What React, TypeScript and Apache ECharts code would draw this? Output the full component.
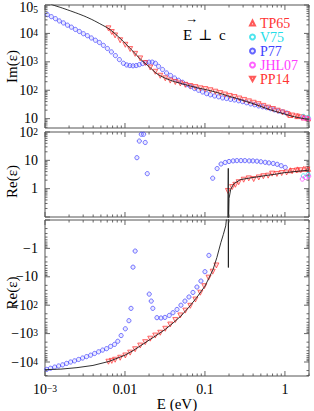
import React, { useEffect, useRef } from "react";
import * as echarts from "echarts";

const SERIF = "'Liberation Serif', 'Times New Roman', 'DejaVu Serif', serif";
const FRAME = "#555";

// ---- axis ranges ----
const xRange = [0.001, 2];
const imRange = [4.7, 100000];
const rePosRange = [0.1, 100];
const reNegRange = [0.1, 31100]; // magnitude of negative Re(eps), drawn downward

// ---- model (black line) ----
const modelImE = [0.001, 0.00126, 0.00158, 0.002, 0.00251, 0.00316, 0.00398, 0.00501, 0.00631, 0.00794,
  0.01, 0.0126, 0.0158, 0.02, 0.0251, 0.0316, 0.0398, 0.0501, 0.0631, 0.0794,
  0.1, 0.126, 0.158, 0.2, 0.251, 0.316, 0.398, 0.501, 0.631, 0.794,
  1.0, 1.26, 1.58, 2.0];
const modelIm = [132000, 100000, 81300, 64600, 51300, 39800, 29500, 20900, 14500, 8510,
  4570, 2340, 1200, 676, 380, 269, 209, 174, 145, 123,
  107, 91.2, 75.9, 61.7, 51.3, 41.7, 33.9, 26.9, 21.4, 17.4,
  14.5, 12.0, 10.5, 9.33];

const modelReE = [0.001, 0.00158, 0.00251, 0.00398, 0.00631,
  0.01, 0.0126, 0.0158, 0.02, 0.0251, 0.0316, 0.0398, 0.0501, 0.0631, 0.0794,
  0.1, 0.112, 0.126, 0.141, 0.158, 0.17, 0.182, 0.19,
  0.1935, 0.1958, 0.196, 0.1961, 0.1963, 0.1966, 0.1968,
  0.2, 0.21, 0.229, 0.278, 0.371, 0.447, 0.6, 0.794, 1.0, 1.5, 2.0];
const modelRe = [-18600, -17800, -15800, -13200, -9550,
  -5750, -3980, -2630, -1700, -1120, -724, -427, -240, -117, -52.5,
  -21.4, -11.2, -5.62, -2.09, -0.63, -0.32, -0.16, -0.05,
  0.05, 5.2, 0.05, -0.05, -4.7, -0.05, 0.05,
  0.45, 0.95, 1.48, 2.09, 2.4, 2.6, 2.95, 3.3, 3.7, 4.15, 4.5];

// ---- P77 ----
const p77ImE = [0.00107, 0.0012, 0.00135, 0.00151, 0.0017, 0.00191, 0.00214, 0.0024, 0.00269, 0.00302,
  0.00339, 0.0038, 0.00427, 0.00479, 0.00537, 0.00603, 0.00676, 0.00759, 0.00851, 0.00955,
  0.0105, 0.0115, 0.0126, 0.0138, 0.0151, 0.0166, 0.0182, 0.02, 0.0219, 0.024,
  0.0263, 0.0295, 0.0331, 0.0372, 0.0417, 0.0468, 0.0525, 0.0589, 0.0661, 0.0741,
  0.0832, 0.0933, 0.105, 0.117, 0.132, 0.148, 0.166, 0.186, 0.209, 0.234,
  0.263, 0.295, 0.331, 0.372, 0.417, 0.468, 0.525, 0.589, 0.661, 0.741,
  0.832, 0.933, 1.05];
const p77Im = [45700, 38900, 33100, 27500, 23400, 19500, 16600, 13800, 11700, 9770,
  8320, 6920, 5750, 4790, 3800, 2950, 2240, 1660, 1200, 891,
  776, 741, 724, 741, 794, 871, 933, 977, 977, 891,
  692, 537, 407, 331, 269, 224, 191, 158, 135, 115,
  100, 87.1, 75.9, 69.2, 63.1, 58.9, 53.7, 51.3, 47.9, 45.7,
  42.7, 39.8, 36.3, 33.1, 30.9, 28.2, 26.3, 24.5, 22.4, 20.4,
  18.6, 17.4, 15.8];

const p77ReE = [0.00105, 0.00117, 0.00132, 0.00148, 0.00166, 0.00186, 0.00209, 0.00234, 0.00263, 0.00295,
  0.00331, 0.00372, 0.00417, 0.00468, 0.00525, 0.00589, 0.00661, 0.00741, 0.00813, 0.00895,
  0.0101, 0.0112, 0.0119, 0.0126, 0.0134, 0.0141, 0.0151, 0.016, 0.0171, 0.0179,
  0.019, 0.0201, 0.0213, 0.0223, 0.0251, 0.0282, 0.0316, 0.0358, 0.0398, 0.0447,
  0.0501, 0.0562, 0.0631, 0.0708, 0.0794, 0.0891, 0.1, 0.112, 0.125, 0.142,
  0.159, 0.179, 0.2, 0.225, 0.251, 0.282, 0.316, 0.357, 0.398, 0.447,
  0.501, 0.566, 0.631, 0.713, 0.8, 0.898, 1.01];
const p77Re = [-18200, -16600, -15100, -13800, -12600, -11200, -10000, -9120, -8130, -7240,
  -6460, -5750, -5010, -4370, -3800, -3390, -2820, -2400, -1860, -1170,
  -676, -351, -129, -4.57, -1.24, 12.4, 47.9, 83.2, 83.2, 42.7,
  3.39, -40.7, -71.6, -129, -275, -282, -269, -229, -184, -141,
  -100, -71.6, -51.3, -35.5, -22.9, -14.1, -6.61, -1.76, 2.34, 5.13,
  7.41, 8.41, 9.12, 9.55, 9.77, 9.77, 9.77, 9.55, 9.55, 9.33,
  8.91, 8.51, 8.13, 7.76, 7.24, 6.46, 5.62];

// ---- PP14 ----
const pp14ImE = [0.00621, 0.00684, 0.00753, 0.00871, 0.0101, 0.0116, 0.0134, 0.0155, 0.0179, 0.0207,
  0.0239, 0.0276, 0.0319, 0.0368, 0.0426, 0.0492, 0.0568, 0.0656, 0.0759, 0.0875,
  0.101, 0.117, 0.135, 0.155, 0.178, 0.204, 0.234, 0.269, 0.309, 0.355,
  0.407, 0.468, 0.537, 0.617, 0.708, 0.813, 0.933, 1.07, 1.23, 1.41,
  1.62, 1.86];
const pp14Im = [15100, 11200, 8510, 5750, 3980, 2820, 1910, 1320, 912, 631,
  447, 324, 263, 219, 195, 174, 155, 141, 129, 117,
  110, 100, 89.1, 79.4, 70.8, 63.1, 57.5, 51.3, 45.7, 40.7,
  36.3, 32.4, 28.2, 24.5, 21.9, 19.1, 16.6, 14.5, 12.9, 12.0,
  11.2, 10.2];
const pp14ReE = [0.00621, 0.00684, 0.00753, 0.00871, 0.0101, 0.0116, 0.0134, 0.0155, 0.0179, 0.0207,
  0.0239, 0.0276, 0.0319, 0.0368, 0.0426, 0.0492, 0.0568, 0.0656, 0.0759, 0.0875,
  0.0982, 0.111, 0.125, 0.139,
  0.194, 0.219, 0.24, 0.264, 0.305, 0.353,
  0.407, 0.471, 0.537, 0.617, 0.692, 0.794,
  0.912, 1.05, 1.23, 1.41, 1.58, 1.91];
const pp14Re = [-9770, -9120, -8320, -7080, -5890, -4680, -3550, -2630, -2000, -1510,
  -1170, -933, -676, -479, -331, -229, -155, -105, -63.1, -36.3,
  -21.4, -10.7, -6.61, -3.98,
  0.83, 1.14, 1.37, 1.69, 2.07, 2.31,
  2.18, 2.49, 2.75, 2.88, 3.39, 3.31,
  3.55, 3.72, 4.17, 4.37, 4.47, 4.79];

// ---- TP65, V75, JHL07 ----
const tp65E = [1.17, 1.43, 1.72, 1.95];
const tp65Im = [13.5, 12.3, 11.0, 10.2];
const tp65Re = [4.47, 4.79, 5.01, 5.01];
const v75E = [1.70, 1.95];
const v75Im = [12.0, 11.0];
const v75Re = [2.82, 3.16];
const jhl07E = [1.65, 1.81, 1.98];
const jhl07Im = [10.7, 10.2, 9.8];
const jhl07Re = [2.18, 2.5, 2.75];

const C_RED = "#ff3333";
const C_BLUE = "#4141ff";
const C_CYAN = "#22dde8";
const C_MAG = "#ff3cff";
const DOWN_TRI = "path://M0,0L10,0L5,8.66Z";

const pairs = (E: number[], V: number[]) => E.map((e, i) => [e, V[i]]);
const posPairs = (E: number[], V: number[]) => E.map((e, i) => [e, V[i]]).filter((p) => p[1] > 0);
const negPairs = (E: number[], V: number[]) => E.map((e, i) => [e, V[i]]).filter((p) => p[1] < 0).map((p) => [p[0], -p[1]]);
const posLine = (E: number[], V: number[]) => E.map((e, i) => [e, V[i] > 0 ? V[i] : "-"]);
const negLine = (E: number[], V: number[]) => E.map((e, i) => [e, V[i] < 0 ? -V[i] : "-"]);

const exp10 = (v: number) => {
  const l = Math.log10(v);
  const r = Math.round(l);
  return Math.abs(l - r) < 1e-6 ? r : null;
};

const rich = {
  b: { fontFamily: SERIF, fontSize: 14, color: "#000", lineHeight: 11 },
  s: { fontFamily: SERIF, fontSize: 9.5, color: "#000", verticalAlign: "top", lineHeight: 7 },
  bt: { fontFamily: SERIF, fontSize: 14, color: "#000", lineHeight: 11, padding: [5, 0, 0, 0] },
  st: { fontFamily: SERIF, fontSize: 9.5, color: "#000", verticalAlign: "top", lineHeight: 7, padding: [5, 0, 0, 0] },
};

function tickItems(yMin: number, yMax: number, xRef: number, yRef: number) {
  const items: number[][] = [];
  for (let n = -3; n <= 0; n++)
    for (let k = 1; k <= 9; k++) {
      const v = k * Math.pow(10, n);
      if (v >= xRange[0] * 0.999 && v <= xRange[1] * 1.001) items.push([v, yRef, k === 1 ? 1 : 0, 0]);
    }
  const n0 = Math.floor(Math.log10(yMin));
  const n1 = Math.ceil(Math.log10(yMax));
  for (let n = n0; n <= n1; n++)
    for (let k = 1; k <= 9; k++) {
      const v = k * Math.pow(10, n);
      if (v >= yMin * 0.999 && v <= yMax * 1.001) items.push([xRef, v, k === 1 ? 1 : 0, 1]);
    }
  return items;
}

function tickSeries(g: number, yMin: number, yMax: number) {
  return {
    type: "custom",
    xAxisIndex: g,
    yAxisIndex: g,
    silent: true,
    clip: false,
    z: 5,
    encode: { x: 0, y: 1 },
    data: tickItems(yMin, yMax, 0.01, yMin * 2),
    renderItem: (params: any, api: any) => {
      const cs = params.coordSys;
      const major = api.value(2) === 1;
      const isY = api.value(3) === 1;
      const len = major ? 5 : 2.5;
      const p = api.coord([api.value(0), api.value(1)]);
      const style = { stroke: FRAME, lineWidth: 0.9 };
      if (!isY) {
        const x = p[0];
        return {
          type: "group",
          children: [
            { type: "line", shape: { x1: x, y1: cs.y, x2: x, y2: cs.y + len }, style },
            { type: "line", shape: { x1: x, y1: cs.y + cs.height, x2: x, y2: cs.y + cs.height - len }, style },
          ],
        };
      }
      const y = p[1];
      return {
        type: "group",
        children: [
          { type: "line", shape: { x1: cs.x, y1: y, x2: cs.x + len, y2: y }, style },
          { type: "line", shape: { x1: cs.x + cs.width, y1: y, x2: cs.x + cs.width - len, y2: y }, style },
        ],
      };
    },
  };
}

function scat(name: string, data: number[][], g: number, symbol: string, color: string, fill: string, size: number) {
  return {
    type: "scatter",
    name,
    xAxisIndex: g,
    yAxisIndex: g,
    symbol,
    symbolSize: size,
    itemStyle: { color: fill, borderColor: color, borderWidth: 0.9 },
    data,
    clip: true,
    silent: true,
    z: 2,
  };
}

function modelLine(data: any[], g: number, smooth: number) {
  return {
    type: "line",
    name: "model",
    xAxisIndex: g,
    yAxisIndex: g,
    data,
    symbol: "none",
    smooth,
    connectNulls: false,
    clip: true,
    silent: true,
    lineStyle: { color: "#1a1a1a", width: 0.9 },
    z: 3,
  };
}

const grids = [
  { left: 45, top: 5, width: 264, height: 123 },
  { left: 45, top: 132, width: 264, height: 85 },
  { left: 45, top: 220, width: 264, height: 156 },
].map((g) => ({
  ...g,
  show: true,
  borderColor: FRAME,
  borderWidth: 1,
  backgroundColor: "transparent",
  containLabel: false,
  outerBoundsMode: "none",
}));

const xLabel = (v: number) => {
  const e = exp10(v);
  if (e === null) return "";
  if (e === -3) return "{b|10}{s|\u22123}";
  if (e === -2) return "{b|0.01}";
  if (e === -1) return "{b|0.1}";
  if (e === 0) return "{b|1}";
  return "";
};

const xAxes = [0, 1, 2].map((g) => ({
  type: "log",
  logBase: 10,
  gridIndex: g,
  min: xRange[0],
  max: xRange[1],
  axisLine: { show: false },
  axisTick: { show: false },
  splitLine: { show: false },
  axisLabel: g === 2 ? { show: true, margin: 8, formatter: xLabel, rich } : { show: false },
  name: g === 2 ? "E (eV)" : "",
  nameLocation: "middle",
  nameGap: 21,
  nameMoveOverlap: false,
  nameTextStyle: { fontFamily: SERIF, fontSize: 15, color: "#000", lineHeight: 13 },
}));

const yName = { fontFamily: SERIF, fontSize: 15, color: "#000" };

const yAxes = [
  {
    type: "log",
    logBase: 10,
    gridIndex: 0,
    min: imRange[0],
    max: imRange[1],
    axisLine: { show: false },
    axisTick: { show: false },
    splitLine: { show: false },
    axisLabel: {
      margin: 7,
      rich,
      formatter: (v: number) => {
        const e = exp10(v);
        if (e === null || e < 1) return "";
        if (e === 5) return `{bt|10}{st|${e}}`;
        return e === 1 ? "{b|10}" : `{b|10}{s|${e}}`;
      },
    },
    name: "Im(\u03b5)",
    nameLocation: "middle",
    nameGap: 26,
    nameMoveOverlap: false,
    nameTextStyle: yName,
  },
  {
    type: "log",
    logBase: 10,
    gridIndex: 1,
    min: rePosRange[0],
    max: rePosRange[1],
    axisLine: { show: false },
    axisTick: { show: false },
    splitLine: { show: false },
    axisLabel: {
      margin: 7,
      rich,
      formatter: (v: number) => {
        const e = exp10(v);
        if (e === null || e < 0) return "";
        if (e === 0) return "{b|1}";
        return e === 1 ? "{b|10}" : `{b|10}{s|${e}}`;
      },
    },
    name: "Re(\u03b5)",
    nameLocation: "middle",
    nameGap: 26,
    nameMoveOverlap: false,
    nameTextStyle: { ...yName, padding: [0, 14, 0, 0] },
  },
  {
    type: "log",
    logBase: 10,
    gridIndex: 2,
    min: reNegRange[0],
    max: reNegRange[1],
    inverse: true,
    axisLine: { show: false },
    axisTick: { show: false },
    splitLine: { show: false },
    axisLabel: {
      margin: 7,
      rich,
      formatter: (v: number) => {
        const e = exp10(v);
        if (e === null || e < 0) return "";
        if (e === 0) return "{b|\u22121}";
        return e === 1 ? "{b|\u221210}" : `{b|\u221210}{s|${e}}`;
      },
    },
    name: "Re(\u03b5)",
    nameLocation: "middle",
    nameGap: 26,
    nameMoveOverlap: false,
    nameTextStyle: { ...yName, padding: [0, 0, 0, 10] },
  },
];

const RED_FILL = "rgba(255,80,80,0.25)";
const BLUE_FILL = "rgba(110,110,255,0.18)";

const series: any[] = [
  // top panel: Im
  scat("P77", pairs(p77ImE, p77Im), 0, "circle", C_BLUE, BLUE_FILL, 4.2),
  scat("PP14", pairs(pp14ImE, pp14Im), 0, DOWN_TRI, C_RED, RED_FILL, 5),
  scat("TP65", pairs(tp65E, tp65Im), 0, "triangle", C_RED, RED_FILL, 5),
  scat("V75", pairs(v75E, v75Im), 0, "circle", C_CYAN, "rgba(0,0,0,0)", 4.2),
  scat("JHL07", pairs(jhl07E, jhl07Im), 0, "circle", C_MAG, "rgba(0,0,0,0)", 4.2),
  modelLine(pairs(modelImE, modelIm), 0, 0.25),
  // middle panel: Re > 0
  scat("P77", posPairs(p77ReE, p77Re), 1, "circle", C_BLUE, BLUE_FILL, 4.2),
  scat("PP14", posPairs(pp14ReE, pp14Re), 1, DOWN_TRI, C_RED, RED_FILL, 5),
  scat("TP65", pairs(tp65E, tp65Re), 1, "triangle", C_RED, RED_FILL, 5),
  scat("V75", pairs(v75E, v75Re), 1, "circle", C_CYAN, "rgba(0,0,0,0)", 4.2),
  scat("JHL07", pairs(jhl07E, jhl07Re), 1, "circle", C_MAG, "rgba(0,0,0,0)", 4.2),
  modelLine(posLine(modelReE, modelRe), 1, 0),
  // bottom panel: Re < 0
  scat("P77", negPairs(p77ReE, p77Re), 2, "circle", C_BLUE, BLUE_FILL, 4.2),
  scat("PP14", negPairs(pp14ReE, pp14Re), 2, DOWN_TRI, C_RED, RED_FILL, 5),
  modelLine(negLine(modelReE, modelRe), 2, 0),
  // frame ticks
  tickSeries(0, imRange[0], imRange[1]),
  tickSeries(1, rePosRange[0], rePosRange[1]),
  tickSeries(2, reNegRange[0], reNegRange[1]),
];

const legendNames = [
  { name: "TP65", color: C_RED },
  { name: "V75", color: C_CYAN },
  { name: "P77", color: C_BLUE },
  { name: "JHL07", color: C_MAG },
  { name: "PP14", color: C_RED },
];

const option: any = {
  animation: false,
  backgroundColor: "#fff",
  grid: grids,
  xAxis: xAxes,
  yAxis: yAxes,
  legend: {
    orient: "vertical",
    left: 249,
    top: 16,
    padding: 0,
    itemGap: 0,
    itemWidth: 5,
    itemHeight: 5,
    selectedMode: false,
    textStyle: { fontFamily: SERIF, fontSize: 14, lineHeight: 11 },
    data: legendNames.map((l) => ({ name: l.name, textStyle: { color: l.color } })),
  },
  graphic: [
    { type: "text", x: 183, y: 27, style: { text: "E", font: `15px ${SERIF}`, fill: "#000" } },
    { type: "text", x: 198, y: 27, style: { text: "\u22a5", font: `15px ${SERIF}`, fill: "#000" } },
    { type: "text", x: 219, y: 27, style: { text: "c", font: `15px ${SERIF}`, fill: "#000" } },
    { type: "text", x: 185, y: 12, style: { text: "\u2192", font: `13px ${SERIF}`, fill: "#000" } },
  ],
  series,
};

export default function App() {
  const ref = useRef<HTMLDivElement>(null);
  useEffect(() => {
    const chart = echarts.init(ref.current!, null, { renderer: "svg" });
    chart.setOption(option);
    return () => chart.dispose();
  }, []);
  return <div ref={ref} style={{ position: "fixed", left: 0, top: 0, width: 314, height: 411 }} />;
}
